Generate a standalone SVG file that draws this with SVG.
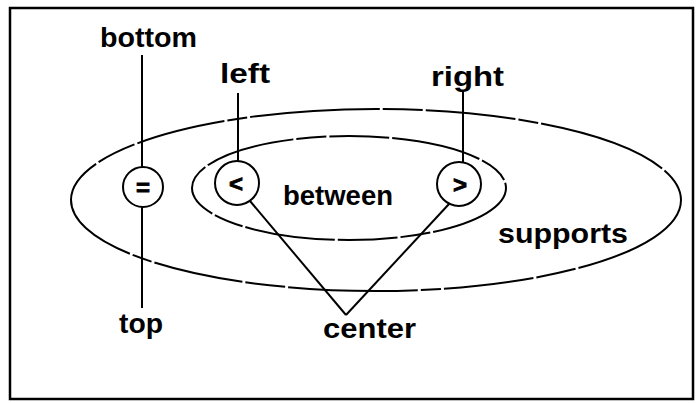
<svg xmlns="http://www.w3.org/2000/svg" width="696" height="403" viewBox="0 0 696 403">
<style>
.t{font-family:"Liberation Sans","DejaVu Sans",sans-serif;font-weight:bold;font-size:27px;fill:#000}
.s{font-family:"Liberation Sans","DejaVu Sans",sans-serif;font-weight:bold;font-size:24px;fill:#000;text-anchor:middle;stroke:#000;stroke-width:0.8}
.c{fill:#fff;stroke:#000;stroke-width:2}
.e{fill:none;stroke:#000;stroke-width:2}
.ln{stroke:#000;stroke-width:2;fill:none}
</style>
<rect x="10" y="8" width="683" height="391" fill="#fff" stroke="#000" stroke-width="2.5"/>
<g id="supports">
<ellipse class="e" cx="376" cy="200" rx="305" ry="91" stroke-dasharray="130 3 40 3 90 3 20 3"/>
<text class="t" x="498" y="243" textLength="130" lengthAdjust="spacingAndGlyphs">supports</text>
</g>
<g id="between">
<ellipse class="e" cx="349" cy="188" rx="157" ry="52" stroke-dasharray="90 3 30 3 60 3"/>
<text class="t" x="283" y="205" textLength="110" lengthAdjust="spacingAndGlyphs">between</text>
</g>
<g id="connectors">
<line class="ln" x1="142" y1="55" x2="142" y2="167"/>
<line class="ln" x1="142" y1="207" x2="142" y2="308"/>
<line class="ln" x1="238" y1="93" x2="238" y2="161"/>
<line class="ln" x1="463" y1="90" x2="463" y2="163"/>
<line class="ln" x1="250" y1="201" x2="346" y2="315"/>
<line class="ln" x1="449" y1="204" x2="346" y2="315"/>
</g>
<g id="eq">
<circle class="c" cx="143" cy="187" r="20"/>
<text class="s" x="143" y="196">=</text>
</g>
<g id="lt">
<circle class="c" cx="237" cy="183" r="22"/>
<text class="s" x="236" y="192">&lt;</text>
</g>
<g id="gt">
<circle class="c" cx="459" cy="184" r="22"/>
<text class="s" x="460" y="193">&gt;</text>
</g>
<g id="bottom"><text class="t" x="100" y="47" textLength="97" lengthAdjust="spacingAndGlyphs">bottom</text></g>
<g id="left"><text class="t" x="220" y="83" textLength="50" lengthAdjust="spacingAndGlyphs">left</text></g>
<g id="right"><text class="t" x="431" y="86" textLength="73" lengthAdjust="spacingAndGlyphs">right</text></g>
<g id="top"><text class="t" x="119" y="333" textLength="44" lengthAdjust="spacingAndGlyphs">top</text></g>
<g id="center"><text class="t" x="323" y="338" textLength="93" lengthAdjust="spacingAndGlyphs">center</text></g>
</svg>
